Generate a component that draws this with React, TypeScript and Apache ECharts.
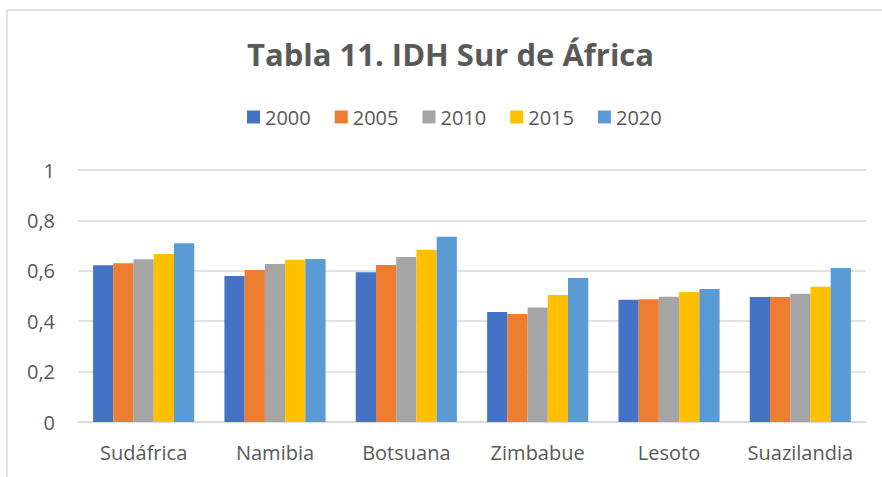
import React, { useEffect, useRef } from "react";
import * as echarts from "echarts";

const title = "Tabla 11. IDH Sur de África";
const categories = ["Sudáfrica", "Namibia", "Botsuana", "Zimbabue", "Lesoto", "Suazilandia"];
const years = ["2000", "2005", "2010", "2015", "2020"];
const v2000 = [0.622, 0.579, 0.594, 0.437, 0.485, 0.496];
const v2005 = [0.630, 0.603, 0.623, 0.429, 0.487, 0.496];
const v2010 = [0.646, 0.627, 0.655, 0.454, 0.497, 0.509];
const v2015 = [0.667, 0.644, 0.684, 0.504, 0.516, 0.537];
const v2020 = [0.709, 0.647, 0.735, 0.571, 0.528, 0.611];
const seriesValues = [v2000, v2005, v2010, v2015, v2020];
const colors = ["#4472C4", "#ED7D31", "#A5A5A5", "#FFC000", "#5B9BD5"];

const FONT = "'Open Sans', sans-serif";
const TEXT = "#595959";

export default function App() {
  const ref = useRef<HTMLDivElement>(null);
  useEffect(() => {
    if (!ref.current) return;
    const chart = echarts.init(ref.current, null, { renderer: "svg" });
    chart.setOption({
      animation: false,
      backgroundColor: "#ffffff",
      textStyle: { fontFamily: FONT },
      graphic: [
        {
          type: "rect",
          shape: { x: 7, y: 10, width: 900, height: 500 },
          style: { fill: "none", stroke: "#d9d9d9", lineWidth: 1.5 },
          silent: true,
        },
      ],
      title: {
        text: title,
        left: 247,
        top: 38,
        padding: 0,
        textStyle: { fontFamily: FONT, fontSize: 31, fontWeight: "bold", color: TEXT },
      },
      legend: {
        data: years,
        left: 247,
        top: 107,
        padding: 0,
        itemWidth: 13,
        itemHeight: 13,
        itemGap: 24,
        icon: "rect",
        textStyle: { fontFamily: FONT, fontSize: 20, color: TEXT },
      },
      grid: { left: 78, right: 16, top: 170, bottom: 55 },
      xAxis: {
        type: "category",
        data: categories,
        axisLine: { lineStyle: { color: "#d9d9d9", width: 1.5 } },
        axisTick: { show: false },
        axisLabel: { fontFamily: FONT, fontSize: 20, color: TEXT, margin: 20, interval: 0 },
      },
      yAxis: {
        type: "value",
        min: 0,
        max: 1,
        interval: 0.2,
        axisLine: { show: false },
        axisTick: { show: false },
        splitLine: { lineStyle: { color: "#d9d9d9", width: 1.5 } },
        axisLabel: {
          fontFamily: FONT,
          fontSize: 20,
          color: TEXT,
          margin: 23,
          formatter: (v: number) => String(Math.round(v * 10) / 10).replace(".", ","),
        },
      },
      series: years.map((y, i) => ({
        name: y,
        type: "bar",
        data: seriesValues[i],
        barGap: "0%",
        barCategoryGap: "23%",
        itemStyle: { color: colors[i] },
      })),
    });
    return () => chart.dispose();
  }, []);
  return (
    <div
      ref={ref}
      style={{ position: "fixed", left: 0, top: 0, width: 882, height: 477 }}
    />
  );
}
